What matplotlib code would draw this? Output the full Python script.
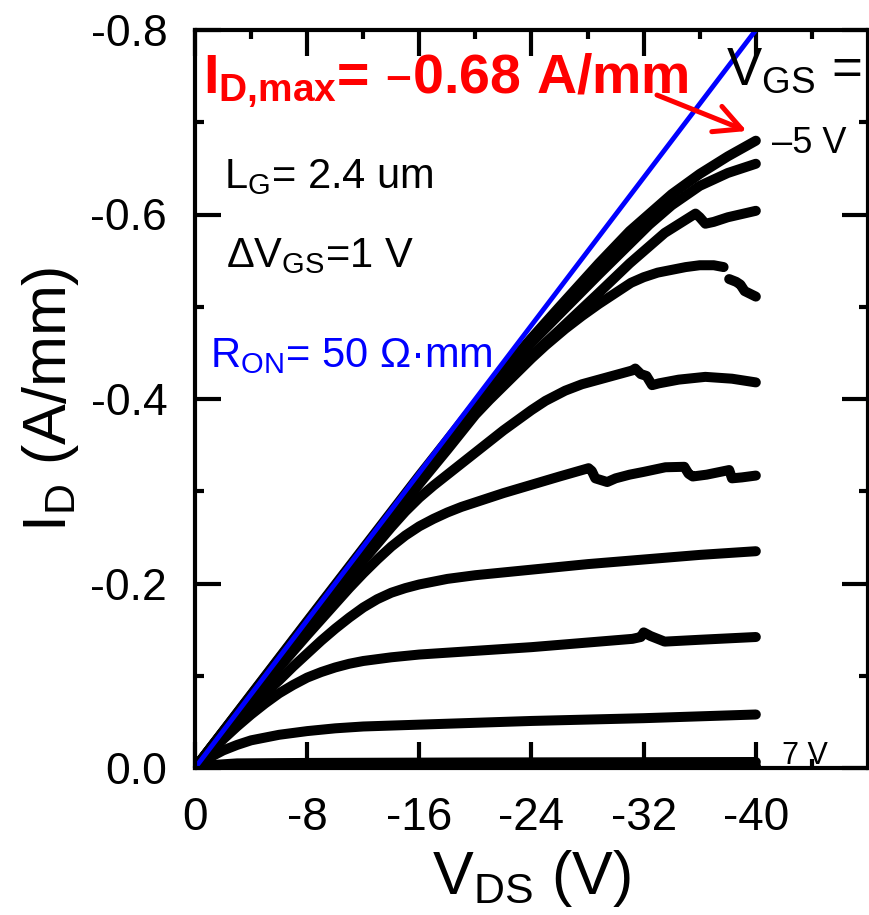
import numpy as np
import matplotlib
matplotlib.use("Agg")
import matplotlib.pyplot as plt

plt.rcParams["font.family"] = ["Liberation Sans", "DejaVu Sans"]
plt.rcParams["mathtext.default"] = "regular"
plt.rcParams["axes.unicode_minus"] = False

# output curves, |V_DS| in V and |I_D| in A/mm (both negative on the chart)
vgs = [-5, -4, -3, -2, -1, 0, 1, 2, 3, 4, 5, 6, 7]

vds_m5 = [0, 4, 8, 12, 16, 20, 22, 24, 26, 28.8, 31, 34, 36, 38, 40]
id_m5 = [0, 0.0795, 0.159, 0.238, 0.317, 0.394, 0.431, 0.466, 0.500, 0.547, 0.582, 0.622, 0.644, 0.663, 0.680]

vds_m4 = [0, 4, 8, 12, 16, 20, 22, 24, 26, 28.8, 31, 32.4, 34, 36, 38, 40]
id_m4 = [0, 0.079, 0.158, 0.237, 0.315, 0.391, 0.427, 0.461, 0.492, 0.535, 0.568, 0.589, 0.610, 0.631, 0.645, 0.655]

vds_m3 = [0, 4, 8, 12, 16, 20, 22, 24, 26, 28.8, 31, 33.5, 35.7, 36.0, 36.4, 37, 38, 40]
id_m3 = [0, 0.078, 0.156, 0.234, 0.311, 0.386, 0.418, 0.447, 0.475, 0.515, 0.547, 0.580, 0.601, 0.597, 0.590, 0.592, 0.597, 0.604]

vds_m2 = [0, 4, 8, 12, 16, 18, 19, 20, 21, 22, 23, 24, 25, 26.4, 27.6, 28.8, 30, 31.1, 32, 33, 34, 35, 36, 37, 37.7,
          np.nan, 38.1, 38.6, 38.9, 39.2, 40]
id_m2 = [0, 0.078, 0.155, 0.231, 0.308, 0.345, 0.364, 0.383, 0.399, 0.414, 0.429, 0.444, 0.458, 0.476, 0.490, 0.503, 0.515,
         0.526, 0.532, 0.537, 0.540, 0.543, 0.545, 0.545, 0.543, np.nan, 0.530, 0.527, 0.524, 0.517, 0.511]

vds_m1 = [0, 4, 8, 12, 14, 15, 16, 17, 18, 19, 20, 21, 22, 23, 24, 25, 26.4, 27.6, 28.8, 30, 31.2, 31.4, 31.8, 32.2,
          32.6, 33.1, 34.5, 36.4, 38.3, 40]
id_m1 = [0, 0.076, 0.151, 0.225, 0.261, 0.278, 0.293, 0.306, 0.318, 0.330, 0.342, 0.354, 0.366, 0.377, 0.388, 0.398,
         0.409, 0.416, 0.421, 0.426, 0.431, 0.433, 0.427, 0.425, 0.415, 0.417, 0.421, 0.424, 0.422, 0.418]

vds_0 = [0, 2, 4, 6, 8, 9, 10, 11, 12, 13, 14, 15, 16, 17, 18, 19, 20, 22, 24, 26, 28.07, 28.3, 28.55, 29.4, 30, 31, 32,
         33.55, 34.9, 35.2, 35.5, 36.5, 38.1, 38.3, 39, 40]
id_0 = [0, 0.037, 0.073, 0.109, 0.144, 0.161, 0.178, 0.195, 0.211, 0.226, 0.240, 0.252, 0.262, 0.270, 0.277, 0.283,
        0.288, 0.298, 0.307, 0.316, 0.325, 0.322, 0.314, 0.310, 0.314, 0.318, 0.321, 0.326, 0.3265, 0.319, 0.316, 0.318,
        0.323, 0.314, 0.315, 0.317]

vds_p1 = [0, 1, 2, 3, 4, 5, 6, 7, 8, 9, 10, 11, 12, 13, 14, 15, 16, 17, 18, 20, 22, 24, 28, 32, 36, 40]
id_p1 = [0, 0.018, 0.035, 0.051, 0.066, 0.081, 0.095, 0.110, 0.124, 0.138, 0.151, 0.163, 0.174, 0.183, 0.190, 0.195,
         0.199, 0.202, 0.205, 0.209, 0.212, 0.215, 0.221, 0.226, 0.231, 0.235]

vds_p2 = [0, 1, 2, 3, 4, 5, 6, 7, 8, 9, 10, 11, 12, 14, 16, 18, 20, 24, 28, 31.2, 31.8, 32.0, 32.5, 33.5, 36, 40]
id_p2 = [0, 0.016, 0.031, 0.045, 0.058, 0.070, 0.081, 0.090, 0.098, 0.104, 0.109, 0.113, 0.116, 0.120, 0.123, 0.125,
         0.127, 0.131, 0.136, 0.140, 0.142, 0.147, 0.143, 0.137, 0.139, 0.142]

vds_p3 = [0, 0.5, 1, 1.5, 2, 3, 4, 5, 6, 8, 10, 12, 16, 24, 32, 40]
id_p3 = [0, 0.006, 0.011, 0.015, 0.019, 0.025, 0.030, 0.033, 0.036, 0.040, 0.043, 0.045, 0.047, 0.051, 0.054, 0.058]

vds_p4 = [0, 1, 3, 8, 20, 40]
id_p4 = [0, 0.003, 0.005, 0.0055, 0.006, 0.0065]

vds_p5 = [0, 40]
id_p5 = [0, 0.002]
vds_p6 = [0, 40]
id_p6 = [0, 0.001]
vds_p7 = [0, 40]
id_p7 = [0, 0.0]

vds_all = [vds_m5, vds_m4, vds_m3, vds_m2, vds_m1, vds_0, vds_p1, vds_p2, vds_p3, vds_p4, vds_p5, vds_p6, vds_p7]
id_all = [id_m5, id_m4, id_m3, id_m2, id_m1, id_0, id_p1, id_p2, id_p3, id_p4, id_p5, id_p6, id_p7]

# on-resistance line, R_ON = 50 ohm*mm
ron_vds = [0, 48]
ron_id = [0, 0.96]

fig = plt.figure(figsize=(8.7, 9.15), dpi=100)
ax = fig.add_axes([195 / 870, 147 / 915, 673 / 870, 738 / 915])

for v, i in zip(vds_all, id_all):
    ax.plot(-np.array(v), -np.array(i), color="black", lw=7.2,
            solid_capstyle="round", solid_joinstyle="round", zorder=2)

ax.plot(-np.array(ron_vds), -np.array(ron_id), color="#0000ff", lw=3.5, zorder=3)

ax.set_xlim(0, -48)
ax.set_ylim(0, -0.8)
ax.set_xticks([0, -8, -16, -24, -32, -40])
ax.set_xticks([-4, -12, -20, -28, -36, -44], minor=True)
ax.set_yticks([0, -0.2, -0.4, -0.6, -0.8])
ax.set_yticks([-0.1, -0.3, -0.5, -0.7], minor=True)
ax.set_yticklabels(["0.0", "-0.2", "-0.4", "-0.6", "-0.8"])

ax.tick_params(which="both", direction="in", top=True, right=True, width=3, pad=20)
ax.tick_params(axis="x", labelsize=33)
ax.tick_params(axis="y", labelsize=32)
ax.tick_params(which="major", length=19)
ax.tick_params(which="minor", length=6.5)
for s in ax.spines.values():
    s.set_linewidth(3)
    s.set_zorder(5)

ax.set_xlabel("V$_{DS}$ (V)", fontsize=44)
ax.set_ylabel("I$_D$ (A/mm)", fontsize=44)
ax.xaxis.set_label_coords(0.5, -0.108)
ax.yaxis.set_label_coords(-0.169, 0.5)

ax.text(-0.57, -0.7314, "I$_{D{,}max}$= \u20130.68 A/mm", color="#ff0000",
        fontsize=40, fontweight="bold", ha="left", va="baseline")
ax.text(-37.9, -0.7404, "V$_{GS}$ =", fontsize=38, ha="left", va="baseline")
ax.text(-41.15, -0.6667, "\u20135 V", fontsize=26, ha="left", va="baseline")
ax.text(-41.87, -0.0043, "7 V", fontsize=22, ha="left", va="baseline", zorder=1)
ax.text(-2.07, -0.6284, "L$_G$= 2.4 um", fontsize=30, ha="left", va="baseline")
ax.text(-2.2, -0.5434, "\u0394V$_{GS}$=1 V", fontsize=30, ha="left", va="baseline")
ax.text(-1.07, -0.4350, "R$_{ON}$= 50 \u03a9\u00b7mm", color="#0000ff", fontsize=30,
        ha="left", va="baseline")

ax.annotate("", xy=(-39.35, -0.6905), xytext=(-32.95, -0.7295),
            arrowprops=dict(arrowstyle="->,head_length=0.96,head_width=0.49",
                            color="#ff0000", lw=3.6, mutation_scale=20,
                            shrinkA=0, shrinkB=0))

fig.savefig("out.png", dpi=100)
